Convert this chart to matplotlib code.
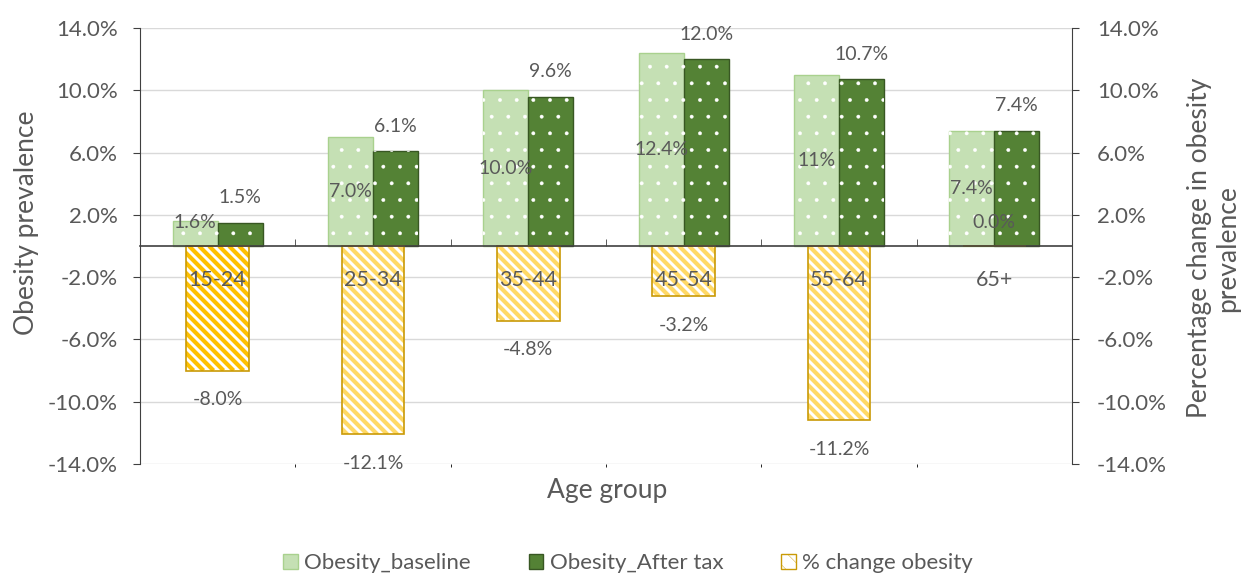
import matplotlib
matplotlib.use("Agg")
import matplotlib.pyplot as plt
import numpy as np
from matplotlib.patches import Patch
from matplotlib.collections import LineCollection
from matplotlib.transforms import IdentityTransform
from matplotlib.ticker import FuncFormatter

# ---- data -------------------------------------------------------------
age_groups = ["15-24", "25-34", "35-44", "45-54", "55-64", "65+"]
obesity_baseline = [1.6, 7.0, 10.0, 12.4, 11.0, 7.4]
obesity_after_tax = [1.5, 6.1, 9.6, 12.0, 10.7, 7.4]
pct_change_obesity = [-8.0, -12.1, -4.8, -3.2, -11.2, 0.0]
baseline_labels = ["1.6%", "7.0%", "10.0%", "12.4%", "11%", "7.4%"]
y_ticks = [-14, -10, -6, -2, 2, 6, 10, 14]

# ---- style ------------------------------------------------------------
DPI = 100
plt.rcParams["font.family"] = ["Lato", "DejaVu Sans"]
plt.rcParams["hatch.linewidth"] = 0.3
TEXT = "#595959"
AXIS = "#404040"
LIGHT_GREEN, LIGHT_GREEN_EDGE = "#C5E0B4", "#A9D18E"
DARK_GREEN, DARK_GREEN_EDGE = "#548235", "#385723"
GOLD_EDGE = "#C99A06"
stripe_colors = ["#FFC000"] + ["#FFD966"] * 5
baseline_label_dy = [8, 0, 0, 0, 0, 0]   # points
STRIPE_STEP = 10.0   # horizontal distance between stripes, pixels
STRIPE_LW = 3.0      # points

fig = plt.figure(figsize=(12.52, 5.77), dpi=DPI)
ax = fig.add_axes([0.1118, 0.1958, 0.7444, 0.7557])
ax2 = ax.twinx()

x = np.arange(len(age_groups))
w_green = 0.29
w_change = 0.405

for a in (ax, ax2):
    a.set_xlim(-0.5, len(age_groups) - 0.5)
    a.set_ylim(-14, 14)
    a.set_yticks(y_ticks)
    a.yaxis.set_major_formatter(FuncFormatter(lambda v, _: f"{v:.1f}%"))

ax.grid(axis="y", color="#D9D9D9", lw=1)
ax.set_axisbelow(True)

# ---- obesity prevalence bars (left axis) ------------------------------
ax.bar(x - w_green / 2, obesity_baseline, w_green, color=LIGHT_GREEN,
       edgecolor=LIGHT_GREEN_EDGE, lw=1, zorder=2)
ax.bar(x - w_green / 2, obesity_baseline, w_green, fill=False,
       edgecolor="white", lw=0, hatch=".", zorder=3)
ax.bar(x + w_green / 2, obesity_after_tax, w_green, color=DARK_GREEN,
       edgecolor=DARK_GREEN_EDGE, lw=1, zorder=2)
ax.bar(x + w_green / 2, obesity_after_tax, w_green, fill=False,
       edgecolor="white", lw=0, hatch=".", zorder=3)

for i, v in enumerate(obesity_baseline):
    ax.annotate(baseline_labels[i], (x[i] - w_green / 2, v / 2),
                xytext=(0, baseline_label_dy[i]), textcoords="offset points",
                ha="center", va="center", fontsize=14, color=TEXT, zorder=5)
for i, v in enumerate(obesity_after_tax):
    ax.annotate(f"{v:.1f}%", (x[i] + w_green / 2, v), xytext=(0, 18),
                textcoords="offset points", ha="center", va="center",
                fontsize=14, color=TEXT, zorder=5)

# ---- percentage change bars (right axis) ------------------------------
change_bars = ax2.bar(x, pct_change_obesity, w_change, color="white",
                      lw=0, zorder=1)

# thick diagonal stripes, clipped to each bar
for rect, col in zip(change_bars, stripe_colors):
    (x0, y0), (x1, y1) = ax2.transData.transform(
        [(rect.get_x(), rect.get_y()),
         (rect.get_x() + rect.get_width(), rect.get_y() + rect.get_height())])
    xa, xb = sorted((x0, x1))
    ya, yb = sorted((y0, y1))
    if yb - ya < 1:
        continue
    c_start = np.floor((xa + ya) / STRIPE_STEP) * STRIPE_STEP
    segs = [[(c - ya, ya), (c - yb, yb)]
            for c in np.arange(c_start, xb + yb + STRIPE_STEP, STRIPE_STEP)]
    lc = LineCollection(segs, colors=col, linewidths=STRIPE_LW,
                        transform=IdentityTransform(), zorder=1.1)
    ax2.add_collection(lc, autolim=False)
    lc.set_clip_path(rect)

ax2.bar(x, pct_change_obesity, w_change, fill=False,
        edgecolor=GOLD_EDGE, lw=1.2, zorder=1.2)

for i, v in enumerate(pct_change_obesity):
    ax2.annotate(f"{v:.1f}%", (x[i], v), xytext=(0, -21 if v < 0 else 17),
                 textcoords="offset points", ha="center", va="center",
                 fontsize=14, color=TEXT, zorder=5)

# ---- axes -------------------------------------------------------------
ax.tick_params(axis="x", bottom=False, labelbottom=False)
for s in ("top", "right", "bottom"):
    ax.spines[s].set_visible(False)
ax.spines["left"].set_color(AXIS)
ax.tick_params(axis="y", length=5, color=AXIS, labelcolor=TEXT,
               labelsize=16, pad=11)

ax2.xaxis.set_visible(True)
for s in ("top", "left"):
    ax2.spines[s].set_visible(False)
ax2.spines["right"].set_color(AXIS)
ax2.spines["bottom"].set_position(("data", 0))
ax2.spines["bottom"].set_color(AXIS)
ax2.spines["bottom"].set_linewidth(1.2)
ax2.set_xticks(x, age_groups)
ax2.set_xticks(x[:-1] + 0.5, minor=True)
ax2.tick_params(axis="x", which="major", length=0, pad=17,
                labelsize=15.5, labelcolor=TEXT)
ax2.tick_params(axis="x", which="minor", direction="in", length=5,
                color=AXIS, labelbottom=False)
ax2.tick_params(axis="y", length=5, color=AXIS, labelcolor=TEXT,
                labelsize=16, pad=13)

ax.text(-0.122, 0.553, "Obesity prevalence", transform=ax.transAxes,
        rotation=90, ha="center", va="center", fontsize=19, color=TEXT)
ax2.text(1.152, 0.495, "Percentage change in obesity\nprevalence",
         transform=ax2.transAxes, rotation=90, ha="center", va="center",
         multialignment="center", fontsize=19, color=TEXT, linespacing=1.15)
ax.text(0.501, -0.06, "Age group", transform=ax.transAxes, ha="center",
        va="center", fontsize=19, color=TEXT)

# ---- legend -----------------------------------------------------------
handles = [
    Patch(facecolor=LIGHT_GREEN, edgecolor=LIGHT_GREEN_EDGE),
    Patch(facecolor=DARK_GREEN, edgecolor=DARK_GREEN_EDGE),
    Patch(facecolor="white", edgecolor=GOLD_EDGE, hatch="\\\\"),
]
fig.legend(handles, ["Obesity_baseline", "Obesity_After tax", "% change obesity"],
           loc="center", bbox_to_anchor=(0.5016, 0.0243), ncol=3, frameon=False,
           handlelength=0.65, handleheight=0.65, handletextpad=0.3,
           columnspacing=2.6, fontsize=16, labelcolor=TEXT)

fig.savefig("out.png", dpi=DPI)
